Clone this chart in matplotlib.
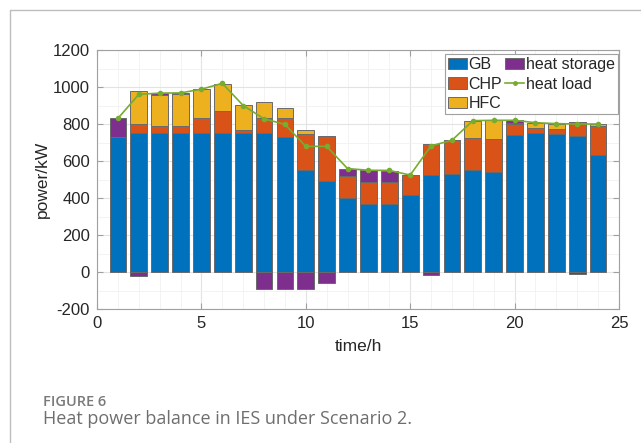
import numpy as np
import matplotlib
matplotlib.use("Agg")
import matplotlib.pyplot as plt
from matplotlib.lines import Line2D
from matplotlib.patches import Patch
from matplotlib.ticker import MultipleLocator

# Hourly heat power balance (kW)
hours = np.arange(1, 25)
gb = np.array([730, 750, 750, 750, 750, 750, 750, 750, 730, 550, 490, 402,
               370, 370, 414, 523, 532, 550, 541, 740, 750, 745, 735, 632])
chp = np.array([0, 50, 38, 38, 80, 120, 20, 84, 104, 198, 247, 117,
                118, 118, 109, 171, 180, 175, 177, 60, 28, 26, 74, 157])
hfc = np.array([0, 178, 170, 172, 158, 148, 130, 83, 54, 21, 0, 0,
                0, 0, 0, 0, 0, 93, 102, 5, 28, 31, 0, 11])
storage = np.array([100, -20, 9, 9, 0, 0, 0, -90, -90, -90, -59, 40,
                    62, 60, 0, -14, 0, 0, 0, 15, 0, 0, -9, 0])
heat_load = np.array([830, 960, 967, 968, 988, 1020, 900, 828, 798, 679, 679, 559,
                      550, 549, 524, 682, 712, 818, 820, 820, 807, 802, 800, 800])

series_names = ["GB", "CHP", "HFC", "heat storage", "heat load"]

C_GB = "#0072BD"
C_CHP = "#D95319"
C_HFC = "#EDB120"
C_ST = "#7E2F8E"
C_LOAD = "#77AC30"
EDGE = "#6a6a6a"

plt.rcParams["font.family"] = ["Liberation Sans", "DejaVu Sans"]
plt.rcParams["axes.unicode_minus"] = False

fig = plt.figure(figsize=(6.41, 4.43), dpi=100)
ax = fig.add_axes([97 / 641, 1 - 309 / 443, (619 - 97) / 641, (309 - 50) / 443])

w = 0.8
bar_kw = dict(width=w, edgecolor=EDGE, linewidth=0.7, zorder=3)
ax.bar(hours, gb, color=C_GB, **bar_kw)
ax.bar(hours, chp, bottom=gb, color=C_CHP, **bar_kw)
ax.bar(hours, hfc, bottom=gb + chp, color=C_HFC, **bar_kw)
st_bottom = np.where(storage > 0, gb + chp + hfc, 0)
mask = storage != 0
ax.bar(hours[mask], storage[mask], bottom=st_bottom[mask], color=C_ST, **bar_kw)
ax.plot(hours, heat_load, color=C_LOAD, lw=1.2, marker="o", ms=3, zorder=4)

ax.set_xlim(0, 25)
ax.set_ylim(-200, 1200)
ax.xaxis.set_major_locator(MultipleLocator(5))
ax.yaxis.set_major_locator(MultipleLocator(200))
ax.xaxis.set_minor_locator(MultipleLocator(1))
ax.yaxis.set_minor_locator(MultipleLocator(100))
ax.grid(True, which="major", color="#e3e3e3", lw=0.8, zorder=0)
ax.grid(True, which="minor", color="#f1f1f1", lw=0.6, zorder=0)
ax.set_axisbelow(True)
ax.tick_params(which="major", direction="in", length=4, top=True, right=True,
               colors="#a0a0a0", labelcolor="#262626", labelsize=12, pad=5)
ax.tick_params(which="minor", length=0)
for s in ax.spines.values():
    s.set_color("#a0a0a0")
    s.set_linewidth(0.8)

ax.set_xlabel("time/h", fontsize=12.5, color="#262626", labelpad=6)
ax.set_ylabel("power/kW", fontsize=12.5, color="#262626", labelpad=2)

handles = [
    Patch(facecolor=C_GB, edgecolor=EDGE, lw=0.7),
    Patch(facecolor=C_CHP, edgecolor=EDGE, lw=0.7),
    Patch(facecolor=C_HFC, edgecolor=EDGE, lw=0.7),
    Patch(facecolor=C_ST, edgecolor=EDGE, lw=0.7),
    Line2D([], [], color=C_LOAD, lw=1.2, marker="o", ms=2.5),
]
leg = ax.legend(handles, series_names, ncol=2, loc="upper right",
                bbox_to_anchor=(0.998, 0.985), fontsize=11.5, frameon=True,
                fancybox=False, edgecolor="#a0a0a0", framealpha=1,
                handlelength=1.15, handleheight=0.7, handletextpad=0.12,
                columnspacing=0.2, labelspacing=0.28, borderpad=0.2,
                borderaxespad=0)
leg.get_frame().set_linewidth(0.8)
for t in leg.get_texts():
    t.set_color("#262626")

# page frame
fig.add_artist(Line2D([10 / 641, 10 / 641, 1.0], [0, 1 - 10 / 443, 1 - 10 / 443],
                      transform=fig.transFigure, color="#bdbdbd", lw=1.0))

fig.text(43 / 641, 1 - 406 / 443, "FIGURE 6", family=["Open Sans", "DejaVu Sans"],
         fontsize=10.5, fontweight="semibold", color="#7a7a7a", va="baseline")
fig.text(43 / 641, 1 - 424 / 443, "Heat power balance in IES under Scenario 2.",
         family=["Open Sans", "DejaVu Sans"], fontsize=13, color="#6e6e6e",
         va="baseline")

fig.savefig("out.png", dpi=100, facecolor="white")
